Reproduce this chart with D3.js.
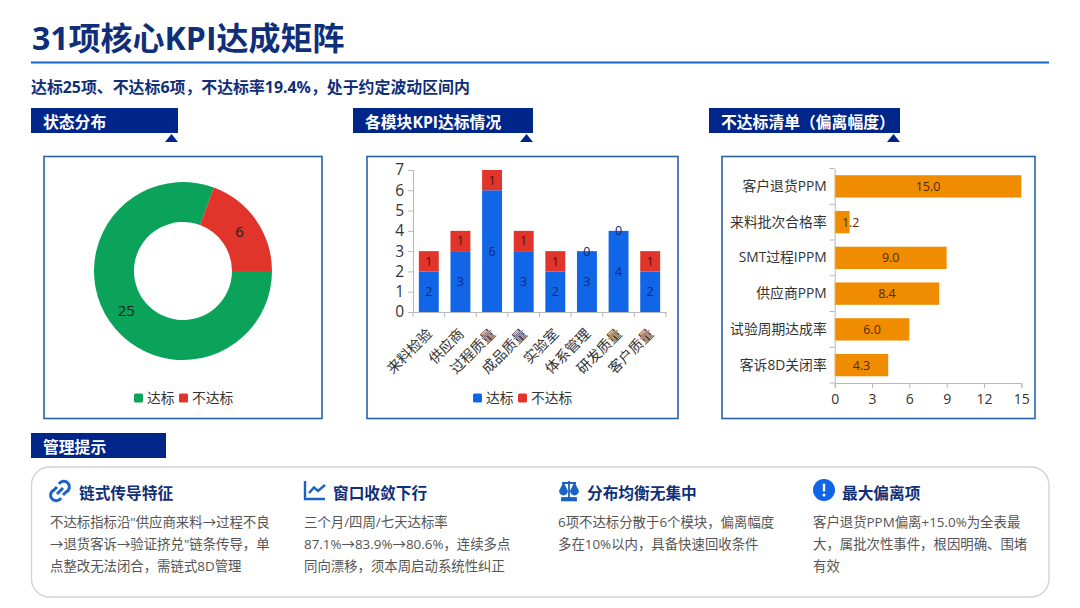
<!DOCTYPE html>
<html>
<head>
<meta charset="utf-8">
<script src="https://cdn.jsdelivr.net/npm/d3@7"></script>
<style>
  html, body { margin: 0; padding: 0; background: #fff; }
  svg { display: block; }
  text { font-family: "Open Sans", "Noto Sans CJK SC", sans-serif; }
</style>
</head>
<body>
<div id="chart"></div>
<script>
// Chart data
var statusLabels = ["达标", "不达标"];
var statusValues = [25, 6];

var moduleNames = ["来料检验", "供应商", "过程质量", "成品质量", "实验室", "体系管理", "研发质量", "客户质量"];
var modulePass = [2, 3, 6, 3, 2, 3, 4, 2];
var moduleFail = [1, 1, 1, 1, 1, 0, 0, 1];
var moduleTicks = [0, 1, 2, 3, 4, 5, 6, 7];

var deviationNames = ["客户退货PPM", "来料批次合格率", "SMT过程IPPM", "供应商PPM", "试验周期达成率", "客诉8D关闭率"];
var deviationValues = [15.0, 1.2, 9.0, 8.4, 6.0, 4.3];
var deviationTicks = [0, 3, 6, 9, 12, 15];

var pageTitle = "31项核心KPI达成矩阵";
var pageSubtitle = "达标25项、不达标6项，不达标率19.4%，处于约定波动区间内";
var sectionTitles = ["状态分布", "各模块KPI达标情况", "不达标清单（偏离幅度）"];
var tipsTitle = "管理提示";
var tipTitles = ["链式传导特征", "窗口收敛下行", "分布均衡无集中", "最大偏离项"];
var tipLines = [
  ["不达标指标沿\"供应商来料→过程不良", "→退货客诉→验证挤兑\"链条传导，单", "点整改无法闭合，需链式8D管理"],
  ["三个月/四周/七天达标率", "87.1%→83.9%→80.6%，连续多点", "同向漂移，须本周启动系统性纠正"],
  ["6项不达标分散于6个模块，偏离幅度", "多在10%以内，具备快速回收条件"],
  ["客户退货PPM偏离+15.0%为全表最", "大，属批次性事件，根因明确、围堵", "有效"]
];

var navy = "#00268a", titleBlue = "#0f2f78", ruleBlue = "#1565c0", frameBlue = "#2a62a8";
var green = "#0ba35a", red = "#e1342a", blue = "#1166e8", orange = "#f08c00";
var axisColor = "#b8b8b8", labelColor = "#333", bodyColor = "#555";

var svg = d3.select("#chart").append("svg")
  .attr("width", 1080)
  .attr("height", 608);

// Header
svg.append("text").attr("x", 32).attr("y", 50)
  .attr("font-size", 32).attr("font-weight", 700).attr("fill", titleBlue)
  .text(pageTitle);
svg.append("rect").attr("x", 31).attr("y", 61.5).attr("width", 1018).attr("height", 2).attr("fill", ruleBlue);
svg.append("text").attr("x", 31).attr("y", 92.5)
  .attr("font-size", 15.9).attr("font-weight", 700).attr("fill", titleBlue)
  .text(pageSubtitle);

// Section tabs
function sectionTab(x, w, y, h, label, withArrow) {
  svg.append("rect").attr("x", x).attr("y", y).attr("width", w).attr("height", h).attr("fill", navy);
  svg.append("text").attr("x", x + 12).attr("y", y + h / 2 + 7)
    .attr("font-size", 15.8).attr("font-weight", 700).attr("fill", "#fff")
    .text(label);
  if (withArrow) {
    var r = x + w;
    svg.append("path")
      .attr("d", "M" + (r - 13) + "," + (y + h + 9) + "L" + (r - 6.5) + "," + (y + h + 1) + "L" + r + "," + (y + h + 9) + "Z")
      .attr("fill", navy);
  }
}
sectionTab(31, 147, 108, 25, sectionTitles[0], true);
sectionTab(353, 180, 108, 25, sectionTitles[1], true);
sectionTab(709, 191, 108, 25, sectionTitles[2], true);
sectionTab(31, 135, 433, 25, tipsTitle, false);

// Chart frames
[[44, 278], [367, 311], [722, 313]].forEach(function (f) {
  svg.append("rect").attr("x", f[0]).attr("y", 156.5).attr("width", f[1]).attr("height", 262)
    .attr("fill", "#fff").attr("stroke", frameBlue).attr("stroke-width", 1.6);
});

function legend(items) {
  items.forEach(function (d) {
    svg.append("rect").attr("x", d.x).attr("y", 393.5).attr("width", 9).attr("height", 9).attr("rx", 1.5).attr("fill", d.color);
    svg.append("text").attr("x", d.x + 13).attr("y", 403)
      .attr("font-size", 13.8).attr("fill", labelColor).text(d.label);
  });
}

// Donut: status distribution
var pie = d3.pie().sort(null)
  .startAngle(Math.PI / 2)
  .endAngle(Math.PI / 2 + 2 * Math.PI);
var arc = d3.arc().innerRadius(49).outerRadius(89);
var donut = svg.append("g").attr("transform", "translate(183,271)");
var donutColor = d3.scaleOrdinal().domain(statusLabels).range([green, red]);
var slices = pie(statusValues);
donut.selectAll("path").data(slices).enter().append("path")
  .attr("d", arc)
  .attr("fill", function (d, i) { return donutColor(statusLabels[i]); });
donut.selectAll("text").data(slices).enter().append("text")
  .attr("transform", function (d) { return "translate(" + arc.centroid(d) + ")"; })
  .attr("text-anchor", "middle").attr("dy", "0.35em")
  .attr("font-size", 15).attr("fill", "#13231b")
  .text(function (d) { return d.value; });
legend([
  { x: 134, color: green, label: statusLabels[0] },
  { x: 179, color: red, label: statusLabels[1] }
]);

// Stacked columns: per module
var stackX = d3.scaleBand().domain(moduleNames).range([413, 666]).paddingInner(0.37).paddingOuter(0.185);
var stackY = d3.scaleLinear().domain([0, 7]).range([312, 170]);
var bandStep = stackX.step();
var stackRows = moduleNames.map(function (name, i) {
  return { name: name, pass: modulePass[i], fail: moduleFail[i] };
});
var stackSeries = d3.stack().keys(["pass", "fail"])(stackRows);
var stackColor = { pass: blue, fail: red };

var stackG = svg.append("g");
stackSeries.forEach(function (series) {
  stackG.append("g").selectAll("rect").data(series).enter().append("rect")
    .attr("x", function (d) { return stackX(d.data.name); })
    .attr("y", function (d) { return stackY(d[1]); })
    .attr("width", stackX.bandwidth())
    .attr("height", function (d) { return stackY(d[0]) - stackY(d[1]); })
    .attr("fill", stackColor[series.key]);
});
stackSeries.forEach(function (series) {
  stackG.append("g").selectAll("text").data(series).enter().append("text")
    .attr("x", function (d) { return stackX(d.data.name) + stackX.bandwidth() / 2; })
    .attr("y", function (d) { return stackY((d[0] + d[1]) / 2); })
    .attr("dy", "0.35em").attr("text-anchor", "middle")
    .attr("font-size", 12.5)
    .attr("fill", function (d) {
      if (series.key === "pass" || d[1] === d[0]) return "#10296e";
      return "#4f1210";
    })
    .text(function (d) { return d[1] - d[0]; });
});

var stackAxisY = svg.append("g").attr("transform", "translate(413,0)")
  .call(d3.axisLeft(stackY).tickValues(moduleTicks).tickFormat(d3.format("d")).tickSize(5));
stackAxisY.selectAll("text").attr("font-size", 15.5).attr("fill", labelColor).attr("x", -9);

var stackAxisX = svg.append("g").attr("transform", "translate(0,312)")
  .call(d3.axisBottom(stackX).tickSize(0));
stackAxisX.selectAll("text")
  .attr("font-size", 14.2).attr("fill", labelColor)
  .attr("text-anchor", "end")
  .attr("transform", "rotate(-45)")
  .attr("x", -13).attr("y", 9).attr("dy", "0.71em");
// ticks sit on the band edges, not the band centres
stackAxisX.selectAll(".edge").data(d3.range(moduleNames.length + 1)).enter().append("line")
  .attr("class", "edge")
  .attr("x1", function (i) { return 413 + i * bandStep; })
  .attr("x2", function (i) { return 413 + i * bandStep; })
  .attr("y1", 0).attr("y2", 5)
  .attr("stroke", axisColor);
legend([
  { x: 473, color: blue, label: statusLabels[0] },
  { x: 518, color: red, label: statusLabels[1] }
]);

// Horizontal bars: deviation list
var devX = d3.scaleLinear().domain([0, 15]).range([834.7, 1021.3]);
var devY = d3.scaleBand().domain(deviationNames).range([168.5, 383]).paddingInner(0.375).paddingOuter(0.1875);
var devStep = devY.step();

svg.append("g").selectAll("rect").data(deviationValues).enter().append("rect")
  .attr("x", devX(0))
  .attr("y", function (d, i) { return devY(deviationNames[i]); })
  .attr("width", function (d) { return devX(d) - devX(0); })
  .attr("height", devY.bandwidth())
  .attr("fill", orange);
svg.append("g").selectAll("text").data(deviationValues).enter().append("text")
  // short bar: label is pushed right so it does not hit the axis
  .attr("x", function (d) { return Math.max(devX(d / 2), devX(0) + 16); })
  .attr("y", function (d, i) { return devY(deviationNames[i]) + devY.bandwidth() / 2; })
  .attr("dy", "0.35em").attr("text-anchor", "middle")
  .attr("font-size", 12.5).attr("fill", "#4f2b06")
  .text(function (d) { return d.toFixed(1); });

var devAxisY = svg.append("g").attr("transform", "translate(834.7,0)")
  .call(d3.axisLeft(devY).tickSize(0));
devAxisY.selectAll("text").attr("font-size", 13.8).attr("fill", labelColor).attr("x", -8);
devAxisY.selectAll(".edge").data(d3.range(deviationNames.length + 1)).enter().append("line")
  .attr("class", "edge")
  .attr("x1", -5).attr("x2", 0)
  .attr("y1", function (i) { return 168.5 + i * devStep; })
  .attr("y2", function (i) { return 168.5 + i * devStep; })
  .attr("stroke", axisColor);

var devAxisX = svg.append("g").attr("transform", "translate(0,383)")
  .call(d3.axisBottom(devX).tickValues(deviationTicks).tickSize(5));
devAxisX.selectAll("text").attr("font-size", 14).attr("fill", labelColor).attr("y", 11);

[stackAxisY, stackAxisX, devAxisY, devAxisX].forEach(function (a) {
  a.attr("font-family", null);
  a.selectAll(".domain").attr("stroke", axisColor);
  a.selectAll(".tick line").attr("stroke", axisColor);
});

// Tips card
svg.append("rect").attr("x", 31.5).attr("y", 467).attr("width", 1017.5).attr("height", 130).attr("rx", 18)
  .attr("fill", "#fff").attr("stroke", "#d0d3d8").attr("stroke-width", 1.4);

var tipX = [50, 304, 558, 813];
tipX.forEach(function (x, i) {
  svg.append("text").attr("x", x + 29).attr("y", 498.5)
    .attr("font-size", 15.7).attr("font-weight", 700).attr("fill", titleBlue)
    .text(tipTitles[i]);
  svg.append("g").selectAll("text").data(tipLines[i]).enter().append("text")
    .attr("x", x)
    .attr("y", function (d, n) { return 527 + n * 22; })
    .attr("font-size", 13.4).attr("fill", bodyColor)
    .text(function (d) { return d; });
});

// Tip icons
var iconBlue = "#1a62c4";
var linkIcon = svg.append("g").attr("transform", "translate(60,491)")
  .attr("fill", "none").attr("stroke", iconBlue).attr("stroke-width", 3);
linkIcon.append("path").attr("d", "M-1,-7 A5.6,5.6 0 1 1 6,1 L3,4");
linkIcon.append("path").attr("d", "M1,7 A5.6,5.6 0 1 1 -6,-1 L-3,-4");
linkIcon.append("path").attr("d", "M-3,3 L3,-3");

var lineIcon = svg.append("g").attr("fill", "none").attr("stroke", iconBlue).attr("stroke-width", 2.4);
lineIcon.append("path").attr("d", "M305,481 V499 H325");
lineIcon.append("path").attr("d", "M309,493 L314,487.5 L318,491 L325,485");

var scaleIcon = svg.append("g").attr("fill", "none").attr("stroke", iconBlue).attr("stroke-width", 1.8);
scaleIcon.append("path").attr("d", "M569,481 V498 M562,483 H576");
scaleIcon.append("path").attr("d", "M560,491 L563.5,484 L567,491 A3.5,3.5 0 0 1 560,491 Z").attr("fill", iconBlue);
scaleIcon.append("path").attr("d", "M571,491 L574.5,484 L578,491 A3.5,3.5 0 0 1 571,491 Z").attr("fill", iconBlue);
scaleIcon.append("rect").attr("x", 562).attr("y", 498).attr("width", 14).attr("height", 2.4).attr("fill", iconBlue);

svg.append("circle").attr("cx", 824).attr("cy", 490).attr("r", 11).attr("fill", blue);
svg.append("rect").attr("x", 822.8).attr("y", 483.5).attr("width", 2.4).attr("height", 8).attr("rx", 1).attr("fill", "#fff");
svg.append("circle").attr("cx", 824).attr("cy", 495).attr("r", 1.5).attr("fill", "#fff");
</script>
</body>
</html>
